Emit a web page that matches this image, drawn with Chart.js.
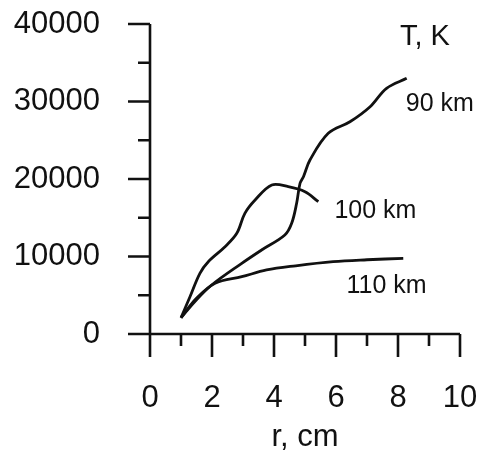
<!DOCTYPE html>
<html>
<head>
<meta charset="utf-8">
<script src="https://cdn.jsdelivr.net/npm/chart.js@4"></script>
<style>
  body { margin: 0; background: #fff; }
  canvas { display: block; }
</style>
</head>
<body>
<canvas id="myChart" width="479" height="458"></canvas>
<script>
// r, cm  /  T, K  for each altitude
const r90 = [1.0, 1.45, 1.99, 2.96, 3.6, 4.35, 4.57, 4.73, 4.84, 4.95, 5.16, 5.75, 6.45, 7.1, 7.63, 8.28];
const t90 = [2100, 4200, 6320, 9120, 10840, 12770, 14280, 16860, 19450, 20300, 22450, 25900, 27390, 29330, 31700, 32990];

const r100 = [1.0, 1.29, 1.61, 1.88, 2.42, 2.8, 3.06, 3.39, 3.93, 4.46, 5.0, 5.43];
const t100 = [2100, 4810, 7830, 9330, 11260, 12990, 15570, 17290, 19230, 19010, 18360, 17070];

const r110 = [1.0, 1.5, 2.1, 2.96, 3.76, 4.7, 5.91, 7.0, 8.17];
const t110 = [2100, 4600, 6540, 7390, 8260, 8800, 9330, 9580, 9770];

const xTicks = [0, 2, 4, 6, 8, 10];
const yTicks = [0, 10000, 20000, 30000, 40000];

// curve labels: [text, r, T]
const curveLabels = [
  ['90 km', 9.35, 29690],
  ['100 km', 7.27, 15850],
  ['110 km', 7.63, 6150]
];

const fontFamily = '"Liberation Sans", Arial, Helvetica, sans-serif';
const ink = '#111';

const toPoints = (xs, ys) => xs.map((v, i) => ({ x: v, y: ys[i] }));

const lineSet = (label, xs, ys) => ({
  label: label,
  data: toPoints(xs, ys),
  showLine: true,
  borderColor: ink,
  borderWidth: 2.8,
  pointRadius: 0,
  tension: 0.35,
  fill: false
});

// keep the plot area where layout.padding puts it
const noScalePadding = (s) => {
  s.paddingTop = 0;
  s.paddingBottom = 0;
  s.paddingLeft = 0;
  s.paddingRight = 0;
};

// axis lines with long/short tick marks
const axesPlugin = {
  id: 'axes',
  afterDraw(chart) {
    const { ctx, scales: { x, y } } = chart;
    const x0 = x.getPixelForValue(0);
    const y0 = y.getPixelForValue(0);
    ctx.save();
    ctx.strokeStyle = ink;
    ctx.lineWidth = 2.6;
    ctx.beginPath();
    ctx.moveTo(x0, y.getPixelForValue(yTicks[yTicks.length - 1]));
    ctx.lineTo(x0, y0);
    ctx.moveTo(x0, y0);
    ctx.lineTo(x.getPixelForValue(xTicks[xTicks.length - 1]), y0);
    yTicks.forEach((v, i) => {
      const py = y.getPixelForValue(v);
      ctx.moveTo(x0 - 22, py);
      ctx.lineTo(x0, py);
      if (i > 0) {
        const pm = y.getPixelForValue((v + yTicks[i - 1]) / 2);
        ctx.moveTo(x0 - 12, pm);
        ctx.lineTo(x0, pm);
      }
    });
    xTicks.forEach((v, i) => {
      const px = x.getPixelForValue(v);
      ctx.moveTo(px, y0);
      ctx.lineTo(px, y0 + 23);
      if (i > 0) {
        const pm = x.getPixelForValue((v + xTicks[i - 1]) / 2);
        ctx.moveTo(pm, y0);
        ctx.lineTo(pm, y0 + 12);
      }
    });
    ctx.stroke();

    ctx.fillStyle = ink;
    ctx.textAlign = 'center';
    ctx.textBaseline = 'middle';
    ctx.font = '29px ' + fontFamily;
    ctx.fillText('T, K', x.getPixelForValue(8.87), y.getPixelForValue(38290));
    ctx.font = '25px ' + fontFamily;
    curveLabels.forEach(([t, rv, tv]) => {
      ctx.fillText(t, x.getPixelForValue(rv), y.getPixelForValue(tv));
    });
    ctx.restore();
  }
};

new Chart(document.getElementById('myChart'), {
  type: 'scatter',
  data: {
    datasets: [
      lineSet('90 km', r90, t90),
      lineSet('100 km', r100, t100),
      lineSet('110 km', r110, t110)
    ]
  },
  options: {
    responsive: false,
    animation: false,
    devicePixelRatio: 1,
    layout: { padding: { left: 0, right: 19, top: 24, bottom: 0 } },
    plugins: {
      legend: { display: false },
      tooltip: { enabled: false }
    },
    scales: {
      x: {
        type: 'linear',
        min: 0,
        max: 10,
        afterBuildTicks: (s) => { s.ticks = xTicks.map(v => ({ value: v })); },
        ticks: {
          padding: 46,
          color: ink,
          font: { family: fontFamily, size: 31 },
          callback: (v) => String(v)
        },
        grid: { display: false, drawTicks: false },
        border: { display: false },
        title: {
          display: true,
          text: 'r, cm',
          color: ink,
          font: { family: fontFamily, size: 31 },
          padding: { top: 0, bottom: 2 }
        },
        afterFit: (s) => { s.height = 124; noScalePadding(s); }
      },
      y: {
        type: 'linear',
        min: 0,
        max: 40000,
        afterBuildTicks: (s) => { s.ticks = yTicks.map(v => ({ value: v })); },
        ticks: {
          padding: 50,
          color: ink,
          font: { family: fontFamily, size: 31 },
          callback: (v) => String(v)
        },
        grid: { display: false, drawTicks: false },
        border: { display: false },
        afterFit: (s) => { s.width = 150; noScalePadding(s); }
      }
    }
  },
  plugins: [axesPlugin]
});
</script>
</body>
</html>
